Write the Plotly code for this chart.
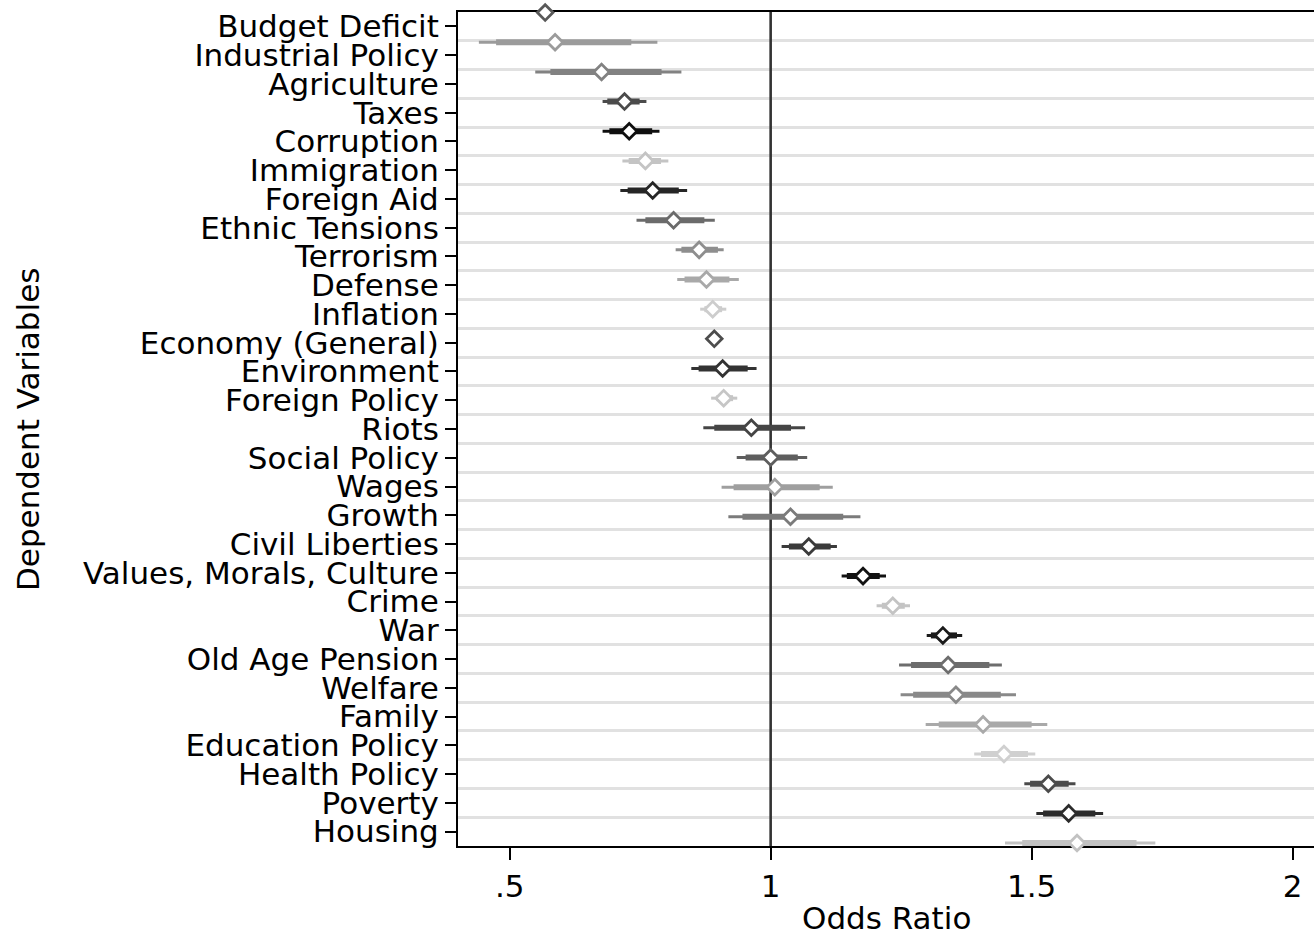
import plotly.graph_objects as go

# Issue areas, top to bottom
categories = [
    "Budget Deficit", "Industrial Policy", "Agriculture", "Taxes", "Corruption",
    "Immigration", "Foreign Aid", "Ethnic Tensions", "Terrorism", "Defense",
    "Inflation", "Economy (General)", "Environment", "Foreign Policy", "Riots",
    "Social Policy", "Wages", "Growth", "Civil Liberties", "Values, Morals, Culture",
    "Crime", "War", "Old Age Pension", "Welfare", "Family",
    "Education Policy", "Health Policy", "Poverty", "Housing",
]

odds_ratio = [0.568, 0.587, 0.676, 0.720, 0.729, 0.760, 0.774, 0.814, 0.863, 0.877,
              0.889, 0.892, 0.908, 0.910, 0.963, 1.000, 1.008, 1.038, 1.073, 1.177,
              1.234, 1.330, 1.340, 1.355, 1.407, 1.447, 1.532, 1.571, 1.587]

ci95_low = [0.560, 0.441, 0.549, 0.678, 0.678, 0.716, 0.712, 0.743, 0.818, 0.821,
            0.865, 0.884, 0.848, 0.886, 0.871, 0.935, 0.906, 0.919, 1.021, 1.136,
            1.203, 1.299, 1.246, 1.249, 1.297, 1.390, 1.486, 1.509, 1.449]
ci95_high = [0.576, 0.783, 0.829, 0.762, 0.787, 0.804, 0.840, 0.893, 0.910, 0.939,
             0.915, 0.900, 0.973, 0.936, 1.066, 1.070, 1.119, 1.172, 1.127, 1.221,
             1.267, 1.367, 1.443, 1.470, 1.530, 1.507, 1.584, 1.637, 1.737]

ci90_low = [0.563, 0.474, 0.578, 0.687, 0.691, 0.728, 0.726, 0.760, 0.829, 0.835,
            0.873, 0.886, 0.862, 0.896, 0.892, 0.952, 0.929, 0.946, 1.035, 1.146,
            1.213, 1.307, 1.269, 1.273, 1.322, 1.403, 1.497, 1.522, 1.482]
ci90_high = [0.573, 0.733, 0.791, 0.749, 0.773, 0.790, 0.824, 0.873, 0.899, 0.921,
             0.907, 0.898, 0.956, 0.928, 1.039, 1.052, 1.094, 1.139, 1.115, 1.209,
             1.257, 1.357, 1.419, 1.441, 1.500, 1.493, 1.571, 1.622, 1.701]

shade = ["#595959", "#9b9b9b", "#828282", "#4b4b4b", "#0f0f0f",
         "#c4c4c4", "#262626", "#6b6b6b", "#8e8e8e", "#a9a9a9",
         "#cdcdcd", "#4d4d4d", "#333333", "#c6c6c6", "#454545",
         "#5e5e5e", "#9f9f9f", "#7b7b7b", "#3b3b3b", "#121212",
         "#c4c4c4", "#1b1b1b", "#6d6d6d", "#898989", "#a9a9a9",
         "#d0d0d0", "#4b4b4b", "#2b2b2b", "#c2c2c2"]

x_ticks = [0.5, 1, 1.5, 2]
x_ticktext = [".5", "1", "1.5", "2"]
null_ratio = 1.0

FONT = "DejaVu Sans"
FS = 31

rows = list(range(len(categories)))
row_bounds = [r + 0.5 for r in rows[:-1]]
row_range = [rows[-1] + 0.5, rows[0] - 0.5]

fig = go.Figure()

# reference line at an odds ratio of one, drawn on the base axis above its grid
fig.add_trace(go.Scatter(x=[null_ratio, null_ratio], y=row_range, yaxis="y",
                         mode="lines", line=dict(color="#333333", width=2.6),
                         hoverinfo="skip", showlegend=False))

# invisible anchor trace so the label axis owns data
fig.add_trace(go.Scatter(x=[odds_ratio[0]], y=[rows[0]], yaxis="y3", mode="markers",
                         marker=dict(opacity=0), hoverinfo="skip", showlegend=False))

for i in rows:
    c = shade[i]
    fig.add_trace(go.Scatter(
        x=[ci95_low[i], ci95_high[i]], y=[i, i], yaxis="y2", mode="lines",
        line=dict(color=c, width=3), hoverinfo="skip", showlegend=False,
        cliponaxis=False))
    fig.add_trace(go.Scatter(
        x=[ci90_low[i], ci90_high[i]], y=[i, i], yaxis="y2", mode="lines",
        line=dict(color=c, width=6), hoverinfo="skip", showlegend=False,
        cliponaxis=False))
    fig.add_trace(go.Scatter(
        x=[odds_ratio[i]], y=[i], yaxis="y2", mode="markers",
        marker=dict(symbol="diamond", size=12, color="white",
                    line=dict(color=c, width=2.8)),
        name=categories[i], showlegend=False, cliponaxis=False))

fig.update_layout(
    width=1314, height=937,
    margin=dict(l=458, r=0, t=12, b=91),
    paper_bgcolor="white", plot_bgcolor="white",
    font=dict(family=FONT, size=FS, color="black"),
    xaxis=dict(
        range=[0.401, 2.041], tickmode="array", tickvals=x_ticks, ticktext=x_ticktext,
        ticks="outside", ticklen=12, tickwidth=2, tickcolor="black",
        showline=True, linecolor="black", linewidth=2, mirror=True,
        showgrid=False, zeroline=False, layer="below traces",
        tickfont=dict(family=FONT, size=FS, color="black"),
    ),
    # base axis: row separators and the left axis line
    yaxis=dict(
        range=row_range, tickmode="array", tickvals=row_bounds,
        showticklabels=False, ticks="",
        showline=True, linecolor="black", linewidth=2,
        showgrid=True, gridcolor="#e1e1e1", gridwidth=3,
        zeroline=False, layer="below traces",
    ),
    # estimates axis
    yaxis2=dict(overlaying="y", anchor="x", range=[28.1, -0.02],
                showticklabels=False, ticks="", showline=False, showgrid=False,
                zeroline=False),
    # category labels
    yaxis3=dict(overlaying="y", anchor="x", range=row_range,
                tickmode="array", tickvals=rows, ticktext=categories,
                ticks="outside", ticklen=12, tickwidth=2, tickcolor="black",
                showline=False, showgrid=False, zeroline=False, layer="below traces",
                tickfont=dict(family=FONT, size=FS, color="black")),
    annotations=[
        dict(text="Odds Ratio", xref="paper", yref="paper", x=0.5, y=-0.0863,
             xanchor="center", yanchor="middle", showarrow=False,
             font=dict(family=FONT, size=FS, color="black")),
        dict(text="Dependent Variables", xref="paper", yref="paper", x=-0.5023, y=0.4988,
             xanchor="center", yanchor="middle", textangle=-90, showarrow=False,
             font=dict(family=FONT, size=FS, color="black")),
    ],
)

fig.write_html("out.html")
